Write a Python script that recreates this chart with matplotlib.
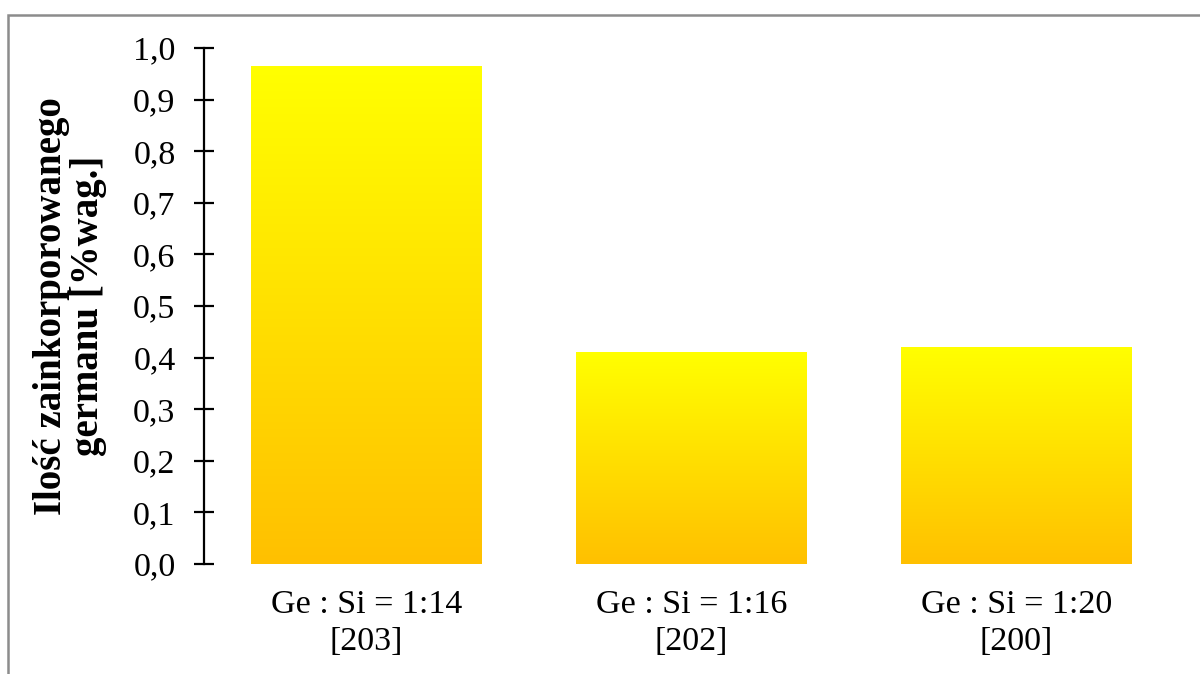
import numpy as np
import matplotlib
matplotlib.use('Agg')
import matplotlib.pyplot as plt
from matplotlib.colors import LinearSegmentedColormap
from matplotlib.patches import Rectangle
from matplotlib.ticker import FuncFormatter

# Ge incorporated for each Ge:Si ratio
labels = ['Ge : Si = 1:14\n[203]', 'Ge : Si = 1:16\n[202]', 'Ge : Si = 1:20\n[200]']
ge_content = [0.965, 0.41, 0.42]
yticks = [0.0, 0.1, 0.2, 0.3, 0.4, 0.5, 0.6, 0.7, 0.8, 0.9, 1.0]

plt.rcParams['font.family'] = ['Liberation Serif', 'DejaVu Serif']

fig = plt.figure(figsize=(12, 6.74), dpi=100)
ax = fig.add_axes([0.17, 0.1632, 0.8125, 0.7656])

# outer gray frame
fig.patches.append(Rectangle((8 / 1200, -0.05), 1.2, 1 - 15 / 674 + 0.05,
                             transform=fig.transFigure, fill=False,
                             edgecolor='#8c8c8c', lw=1.8))

x = np.arange(len(labels))
bars = ax.bar(x, ge_content, width=0.71, color='none', edgecolor='none')

cmap = LinearSegmentedColormap.from_list('yo', ['#FFC000', '#FFFF00'])
grad = np.linspace(0, 1, 256).reshape(-1, 1)
for b in bars:
    x0, w, h = b.get_x(), b.get_width(), b.get_height()
    ax.imshow(grad, extent=[x0, x0 + w, 0, h], origin='lower', cmap=cmap,
              aspect='auto', zorder=2)

ax.set_xlim(-0.5, len(labels) - 0.5)
ax.set_ylim(0, 1.0)
ax.set_xticks(x)
ax.set_xticklabels(labels, fontsize=24.5, linespacing=1.3)
ax.set_yticks(yticks)
ax.yaxis.set_major_formatter(FuncFormatter(lambda v, p: f'{v:.1f}'.replace('.', ',')))

for s in ['top', 'right', 'bottom']:
    ax.spines[s].set_visible(False)
ax.spines['left'].set_linewidth(1.6)
ax.tick_params(axis='y', direction='inout', length=15, width=1.6, labelsize=24.5, pad=13)
ax.tick_params(axis='x', length=0, pad=18)

ax.set_ylabel('Ilość zainkorporowanego\ngermanu [%wag.]', fontsize=28,
              fontweight='bold', labelpad=19, linespacing=1.0)

fig.savefig('out.png', dpi=100)
